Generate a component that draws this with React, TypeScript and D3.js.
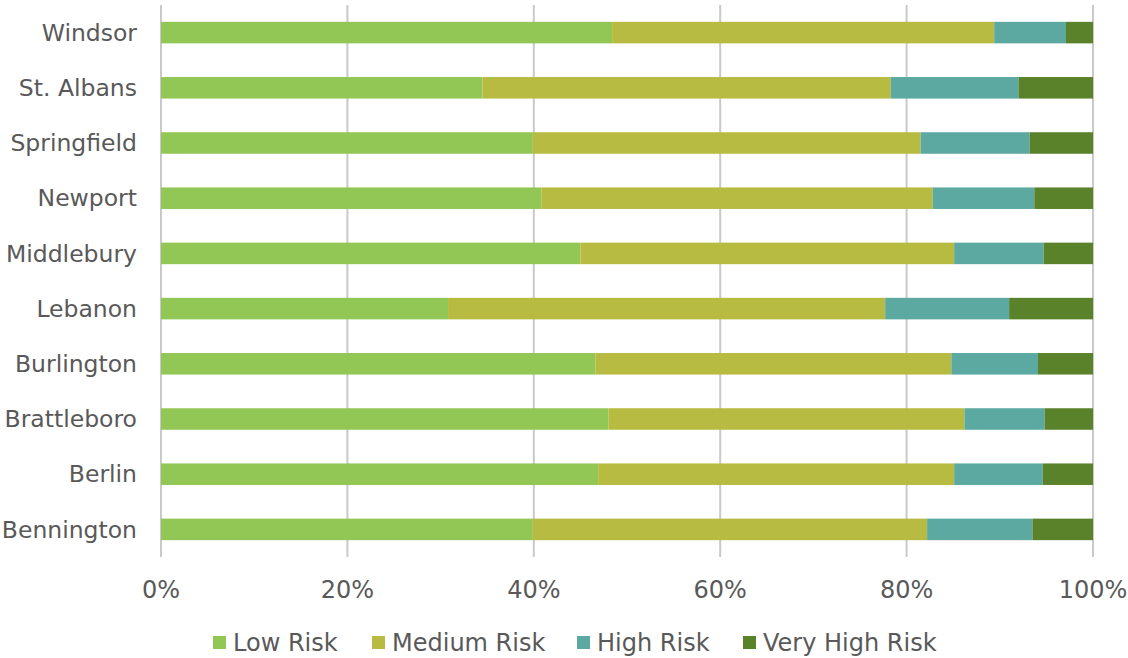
import React from "react";
import * as d3 from "d3";

const categories = [
  "Windsor",
  "St. Albans",
  "Springfield",
  "Newport",
  "Middlebury",
  "Lebanon",
  "Burlington",
  "Brattleboro",
  "Berlin",
  "Bennington",
];

const seriesNames = ["Low Risk", "Medium Risk", "High Risk", "Very High Risk"];

const lowRisk = [48.4, 34.5, 39.9, 40.8, 45.0, 30.8, 46.6, 48.0, 46.9, 39.9];
const mediumRisk = [41.0, 43.8, 41.6, 42.0, 40.1, 46.9, 38.2, 38.2, 38.2, 42.3];
const highRisk = [7.7, 13.7, 11.7, 10.9, 9.6, 13.3, 9.3, 8.6, 9.5, 11.3];
const veryHighRisk = [2.9, 8.0, 6.8, 6.3, 5.3, 9.0, 5.9, 5.2, 5.4, 6.5];

const tickValues = [0, 0.2, 0.4, 0.6, 0.8, 1.0];

const colors = ["#92c756", "#b7bb42", "#5ba9a0", "#5a822b"];

const W = 1128;
const H = 658;
const FONT = "'DejaVu Sans', Verdana, sans-serif";
const TEXT = "#595959";
const FS = 24;
const FS_CAT = 23.5;

export default function App() {
  const rows = categories.map((c, i) => ({
    category: c,
    "Low Risk": lowRisk[i],
    "Medium Risk": mediumRisk[i],
    "High Risk": highRisk[i],
    "Very High Risk": veryHighRisk[i],
  }));

  const stack = d3
    .stack<any>()
    .keys(seriesNames)
    .offset(d3.stackOffsetExpand);
  const layers = stack(rows);

  const x = d3.scaleLinear().domain([0, 1]).range([161, 1093]);
  const y = d3
    .scaleBand<string>()
    .domain(categories)
    .range([5, 557])
    .paddingInner(0.61)
    .paddingOuter(0.305);

  const pct = d3.format(".0%");

  const legendItems = [
    { x: 213, label: seriesNames[0] },
    { x: 372, label: seriesNames[1] },
    { x: 577, label: seriesNames[2] },
    { x: 743, label: seriesNames[3] },
  ];

  return (
    <svg
      width={W}
      height={H}
      style={{ position: "absolute", left: 0, top: 0, background: "#fff" }}
      fontFamily={FONT}
    >
      {tickValues.map((t) => (
        <line
          key={"g" + t}
          x1={x(t)}
          x2={x(t)}
          y1={5}
          y2={557}
          stroke="#c9c9c9"
          strokeWidth={2}
        />
      ))}
      {layers.map((layer, li) => (
        <g key={layer.key} fill={colors[li]}>
          {layer.map((d, i) => (
            <rect
              key={categories[i]}
              x={x(d[0])}
              width={x(d[1]) - x(d[0])}
              y={y(categories[i])}
              height={y.bandwidth()}
            />
          ))}
        </g>
      ))}
      {categories.map((c) => (
        <text
          key={"c" + c}
          x={137}
          y={(y(c) as number) + y.bandwidth() / 2}
          dy="0.35em"
          textAnchor="end"
          fontSize={FS_CAT}
          fill={TEXT}
        >
          {c}
        </text>
      ))}
      {tickValues.map((t) => (
        <text
          key={"t" + t}
          x={x(t)}
          y={598}
          textAnchor="middle"
          fontSize={FS}
          fill={TEXT}
        >
          {pct(t)}
        </text>
      ))}
      {legendItems.map((it, i) => (
        <g key={it.label}>
          <rect x={it.x} y={636} width={13} height={13} fill={colors[i]} />
          <text x={it.x + 20} y={651} fontSize={FS} fill={TEXT}>
            {it.label}
          </text>
        </g>
      ))}
    </svg>
  );
}
